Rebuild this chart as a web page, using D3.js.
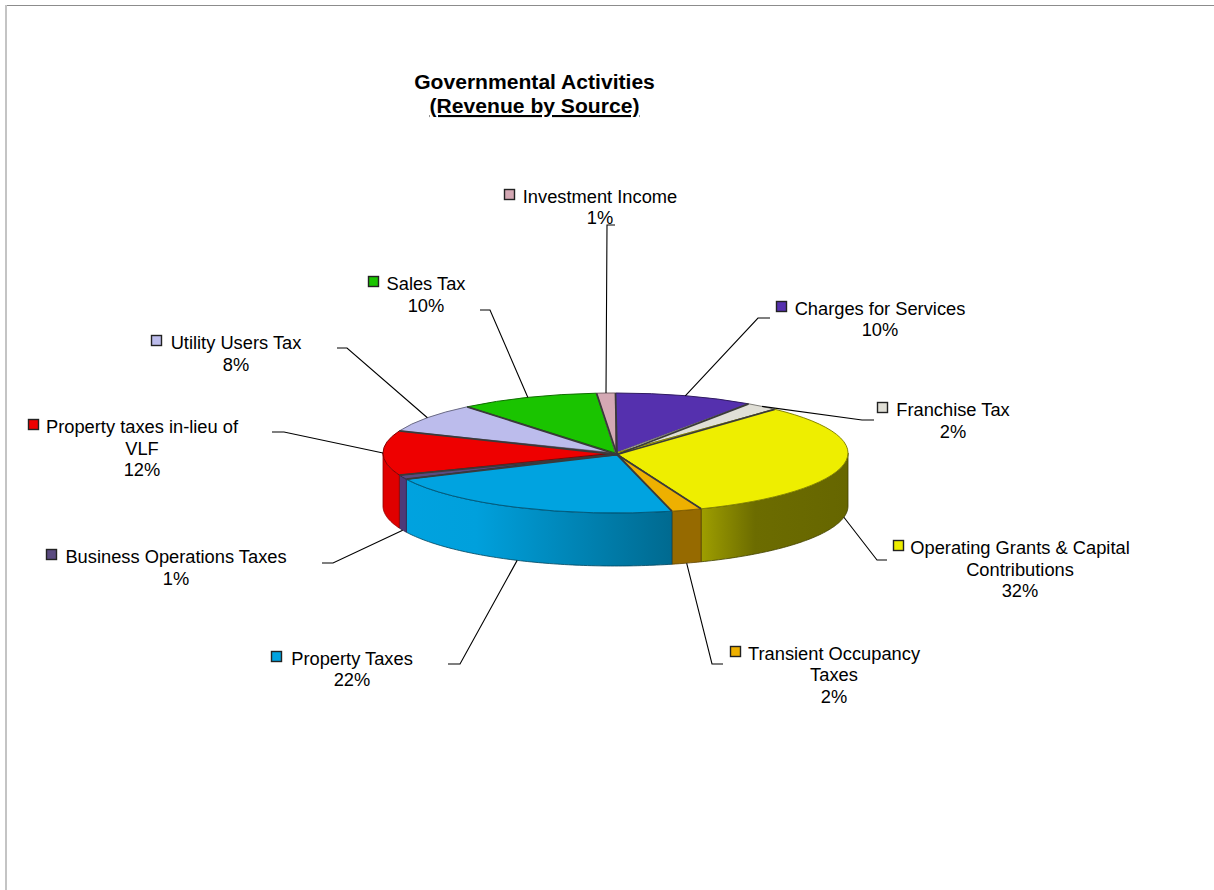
<!DOCTYPE html>
<html><head><meta charset="utf-8">
<script src="https://cdn.jsdelivr.net/npm/d3@7/dist/d3.min.js"></script>
<style>html,body{margin:0;padding:0;background:#fff}svg{display:block}text{font-family:"Liberation Sans",Arial,sans-serif;fill:#000}</style>
</head><body><svg id="c" width="1214" height="890"></svg>
<script>
const categories=["Charges for Services","Franchise Tax","Operating Grants & Capital Contributions","Transient Occupancy Taxes","Property Taxes","Business Operations Taxes","Property taxes in-lieu of VLF","Utility Users Tax","Sales Tax","Investment Income"];
const values=[9.7,2.3,32,2.1,21.7,1.2,12,8,9.7,1.3];
const colors=["#5530ae","#e0dfd6","#eeee00","#eeb000","#00a3e0","#5a4a80","#ee0000","#bcbcec","#1ac400","#d4a8b4"];
const wallColors=["#3a2078","#99988f","#666600","#966a00","#006a90","#4e3a78","#e00000","#80809f","#128400","#907078"];
const labelLines=[["Charges for Services"],["Franchise Tax"],["Operating Grants & Capital","Contributions"],["Transient Occupancy","Taxes"],["Property Taxes"],["Business Operations Taxes"],["Property taxes in-lieu of","VLF"],["Utility Users Tax"],["Sales Tax"],["Investment Income"]];
// layout: text centre, first baseline, key x, leader elbow, leader end
const labelLayout=[
 {cx:880,y:314.5,kx:776,e:[758,318],t:[770,318]},
 {cx:953,y:416,kx:877,e:[862,420],t:[874,420]},
 {cx:1020,y:554,kx:893,e:[877,560],t:[887,560]},
 {cx:834,y:659.5,kx:730,e:[712,664],t:[723,664]},
 {cx:352,y:664.5,kx:271,e:[460,664],t:[448,664]},
 {cx:176,y:563,kx:46,e:[333,563],t:[322,563]},
 {cx:142,y:433,kx:28,e:[284,432],t:[272,432]},
 {cx:236,y:349,kx:151,e:[347,348],t:[337,348]},
 {cx:426,y:290,kx:368,e:[490,310],t:[480,310]},
 {cx:600,y:202.5,kx:504,e:[607,225],t:[615,225]}
];
const svg=d3.select("#c");
const cx=615.5,cy=453,rx=232.5,ry=60,depth=53;
const pie=d3.pie().sort(null).value(d=>d)(values);
const px=a=>cx+rx*Math.sin(a), py=a=>cy-ry*Math.cos(a);
// frame
svg.append("line").attr("x1",5).attr("x2",1214).attr("y1",5.5).attr("y2",5.5).attr("stroke","#8c8c8c");
svg.append("line").attr("x1",6).attr("x2",6).attr("y1",5).attr("y2",890).attr("stroke","#c4c4c4").attr("stroke-width",2);
// title
const title=svg.append("g").attr("text-anchor","middle").style("font-weight","bold").style("font-size","21.1px");
title.append("text").attr("x",534.5).attr("y",89).text("Governmental Activities");
title.append("text").attr("x",534.5).attr("y",113).attr("text-decoration","underline").text("(Revenue by Source)");
// gradients
const defs=svg.append("defs");
function grad(id,stops){const g=defs.append("linearGradient").attr("id",id).attr("gradientUnits","userSpaceOnUse").attr("x1",cx-rx).attr("x2",cx+rx).attr("y1",0).attr("y2",0);
 stops.forEach(s=>g.append("stop").attr("offset",s[0]).attr("stop-color",s[1]));}
grad("gBlue",[[0,"#00a3e0"],[0.2,"#00a0dc"],[0.62,"#006a90"],[1,"#006a90"]]);
grad("gYellow",[[0,"#a0a000"],[0.68,"#a0a000"],[0.8,"#6c6c00"],[1,"#666600"]]);
const sideFill=i=>i===4?"url(#gBlue)":i===2?"url(#gYellow)":wallColors[i];
// side walls
const wall=d3.area().x(a=>px(a)).y0(a=>py(a)).y1(a=>py(a)+depth);
const HALF=Math.PI/2;
pie.forEach((d,i)=>{
  const lo=Math.max(d.startAngle,HALF), hi=Math.min(d.endAngle,3*HALF);
  if(hi<=lo) return;
  const n=Math.max(2,Math.ceil((hi-lo)*60));
  const as=d3.range(n+1).map(k=>lo+(hi-lo)*k/n);
  svg.append("path").attr("d",wall(as)).attr("fill",sideFill(i)).attr("stroke",d3.color(wallColors[i]).darker(1.2)).attr("stroke-opacity",.8).attr("stroke-width",1);
});
// top
const arc=d3.arc().innerRadius(0).outerRadius(rx);
const topFace=svg.append("g").attr("transform",`translate(${cx},${cy}) scale(1,${ry/rx})`);
topFace.selectAll("path").data(pie).join("path").attr("d",arc).attr("fill",(d,i)=>colors[i])
  .attr("stroke",(d,i)=>d3.color(colors[i]).darker(1.6)).attr("stroke-width",1).attr("vector-effect","non-scaling-stroke");
// slice separators on the top face
pie.forEach(d=>{
  svg.append("line").attr("x1",cx+1.5).attr("y1",cy+1.5).attr("x2",px(d.startAngle)).attr("y2",py(d.startAngle))
    .attr("stroke","#3a3a3a").attr("stroke-width",1.8);
});
// leaders
const leader=d3.line();
pie.forEach((d,i)=>{
  const m=(d.startAngle+d.endAngle)/2, L=labelLayout[i];
  const wallSide=Math.cos(m)<0 && Math.abs(Math.sin(m))<0.999;
  const s=[px(m),py(m)+(wallSide?depth:0)];
  svg.append("path").attr("d",leader([s,L.e,L.t])).attr("fill","none").attr("stroke","#000").attr("stroke-width",1.1);
});
// labels
pie.forEach((d,i)=>{
  const L=labelLayout[i], lines=[...labelLines[i],Math.round(values[i])+"%"];
  const g=svg.append("g").style("font-size","18.3px").attr("text-anchor","middle");
  lines.forEach((t,k)=>g.append("text").attr("x",L.cx).attr("y",L.y+k*21.5).text(t));
  svg.append("rect").attr("x",L.kx+.5).attr("y",Math.round(L.y)-13.5).attr("width",10).attr("height",10).attr("fill",colors[i]).attr("stroke","#222").attr("stroke-width",1.4);
});
</script></body></html>
